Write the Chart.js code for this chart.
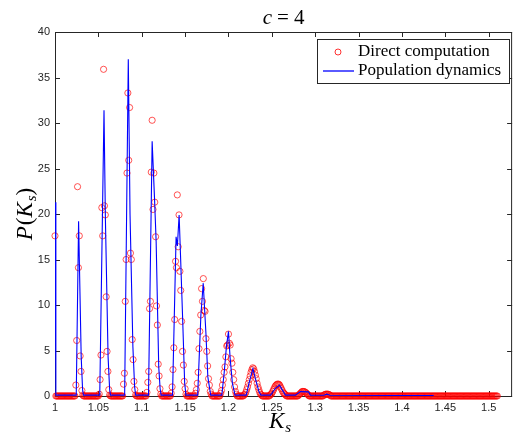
<!DOCTYPE html>
<html>
<head>
<meta charset="utf-8">
<script src="https://cdn.jsdelivr.net/npm/chart.js@4.4.1/dist/chart.umd.min.js"></script>
<style>
html, body { margin: 0; padding: 0; background: #fff; }
</style>
</head>
<body>
<canvas id="chart" width="517" height="437"></canvas>
<script>
// axis ticks
const xTicks = [1, 1.05, 1.1, 1.15, 1.2, 1.25, 1.3, 1.35, 1.4, 1.45, 1.5];
const xTickLabels = ['1', '1.05', '1.1', '1.15', '1.2', '1.25', '1.3', '1.35', '1.4', '1.45', '1.5'];
const yTicks = [0, 5, 10, 15, 20, 25, 30, 35, 40];

// Direct computation: histogram bins from Ks = 1.000, every 0.001
const redStart = 1.0;
const redStep = 0.001;
const redY = [
  17.6, 0, 0, 0, 0, 0, 0, 0, 0, 0,
  0, 0, 0, 0, 0, 0, 0, 0, 0, 0,
  0, 0, 0, 0, 1.2, 6.1, 23.0, 14.1, 17.6, 4.4,
  2.7, 0.6, 0.1, 0, 0, 0, 0, 0, 0, 0,
  0, 0, 0, 0, 0, 0, 0, 0, 0, 0,
  0, 0.2, 1.8, 4.5, 20.7, 17.6, 35.9, 20.9, 19.9, 10.9,
  4.9, 2.7, 0.7, 0.1, 0, 0, 0, 0, 0, 0,
  0, 0, 0, 0, 0, 0, 0, 0, 0, 1.3,
  2.5, 10.4, 15.0, 24.5, 33.3, 25.9, 31.7, 15.7, 15.0, 6.2,
  4.0, 1.6, 0.7, 0.1, 0, 0, 0, 0, 0, 0,
  0, 0, 0, 0, 0, 0, 0.4, 1.5, 2.7, 9.6,
  10.4, 24.6, 30.3, 20.5, 24.5, 21.3, 17.5, 9.9, 7.8, 3.5,
  2.2, 0.8, 0.2, 0, 0, 0, 0, 0, 0, 0,
  0, 0, 0, 0, 0.3, 1.0, 2.9, 5.3, 8.4, 14.8,
  14.1, 22.1, 16.4, 19.9, 13.7, 11.6, 8.2, 4.9, 3.4, 1.6,
  0.8, 0.2, 0, 0, 0, 0, 0, 0, 0, 0,
  0, 0, 0.3, 0.7, 1.4, 2.6, 5.2, 7.1, 8.9, 11.8,
  10.4, 12.9, 9.4, 9.3, 6.3, 4.9, 3.3, 1.9, 1.2, 0.5,
  0.2, 0, 0, 0, 0, 0, 0, 0, 0, 0,
  0, 0.3, 0.6, 1.2, 1.8, 2.6, 3.2, 4.3, 5.5, 5.6,
  6.8, 5.8, 5.6, 4.1, 3.6, 2.6, 1.8, 1.0, 0.5, 0.2,
  0, 0, 0, 0, 0, 0, 0, 0, 0.1, 0.2,
  0.4, 0.7, 1.0, 1.4, 1.8, 2.2, 2.6, 2.9, 3.1, 3.0,
  2.7, 2.3, 1.9, 1.4, 1.0, 0.7, 0.4, 0.2, 0.1, 0,
  0, 0, 0, 0, 0, 0, 0, 0, 0.1, 0.2,
  0.3, 0.5, 0.7, 0.9, 1.1, 1.2, 1.3, 1.3, 1.3, 1.2,
  1.0, 0.8, 0.6, 0.4, 0.3, 0.2, 0.1, 0, 0, 0,
  0, 0, 0, 0, 0, 0, 0, 0, 0, 0,
  0, 0.1, 0.2, 0.3, 0.4, 0.5, 0.5, 0.5, 0.45, 0.4,
  0.3, 0.2, 0.1, 0, 0, 0, 0, 0, 0, 0,
  0, 0, 0, 0, 0, 0, 0, 0, 0, 0,
  0.1, 0.15, 0.2, 0.2, 0.2, 0.2, 0.15, 0.1, 0, 0,
  0, 0, 0, 0, 0, 0, 0, 0, 0, 0,
  0, 0, 0, 0, 0, 0, 0, 0, 0, 0,
  0, 0, 0, 0, 0, 0, 0, 0, 0, 0,
  0, 0, 0, 0, 0, 0, 0, 0, 0, 0,
  0, 0, 0, 0, 0, 0, 0, 0, 0, 0,
  0, 0, 0, 0, 0, 0, 0, 0, 0, 0,
  0, 0, 0, 0, 0, 0, 0, 0, 0, 0,
  0, 0, 0, 0, 0, 0, 0, 0, 0, 0,
  0, 0, 0, 0, 0, 0, 0, 0, 0, 0,
  0, 0, 0, 0, 0, 0, 0, 0, 0, 0,
  0, 0, 0, 0, 0, 0, 0, 0, 0, 0,
  0, 0, 0, 0, 0, 0, 0, 0, 0, 0,
  0, 0, 0, 0, 0, 0, 0, 0, 0, 0,
  0, 0, 0, 0, 0, 0, 0, 0, 0, 0,
  0, 0, 0, 0, 0, 0, 0, 0, 0, 0,
  0, 0, 0, 0, 0, 0, 0, 0, 0, 0,
  0, 0, 0, 0, 0, 0, 0, 0, 0, 0,
  0, 0, 0, 0, 0, 0, 0, 0, 0, 0,
  0, 0, 0, 0, 0, 0, 0, 0, 0, 0,
  0
];

// Population dynamics curve
const blueX = [
  1.0, 1.001, 1.0245, 1.0272, 1.0302, 1.0318, 1.0328,
  1.0516, 1.0565, 1.0581, 1.0612, 1.063, 1.064,
  1.0803, 1.0845, 1.0865, 1.0898, 1.0918, 1.093,
  1.1078, 1.112, 1.1147, 1.1166, 1.1196, 1.1212, 1.1224,
  1.1355, 1.1396, 1.1411, 1.1431, 1.1447, 1.1472, 1.1495, 1.151,
  1.1645, 1.1682, 1.1709, 1.1725, 1.174, 1.1762, 1.1795,
  1.1923, 1.195, 1.1976, 1.2, 1.2018, 1.2045, 1.2076,
  1.2205, 1.2236, 1.2282, 1.2313, 1.2351, 1.2374,
  1.2485, 1.2542, 1.2588, 1.2618, 1.2657,
  1.2772, 1.2829, 1.2924, 1.2944,
  1.31, 1.3134, 1.317, 1.4366
];
const blueY = [
  21.3, 0.1, 0.1, 19.2, 4.3, 0.7, 0.1,
  0.1, 31.4, 19.5, 4.3, 0.7, 0.1,
  0.1, 37.0, 20.0, 5.4, 1.0, 0.1,
  0.1, 28.0, 21.8, 17.0, 3.2, 0.8, 0.1,
  0.1, 17.5, 16.5, 19.9, 15.5, 8.4, 1.4, 0.1,
  0.1, 8.9, 12.4, 9.5, 6.9, 2.1, 0.1,
  0.1, 2.5, 5.4, 7.1, 4.3, 1.4, 0.1,
  0.1, 1.4, 3.0, 1.8, 0.5, 0.1,
  0.1, 0.85, 1.2, 0.7, 0.1,
  0.1, 0.48, 0.45, 0.1,
  0.08, 0.2, 0.08, 0.05
];

const redPoints = redY.map((v, i) => ({ x: redStart + i * redStep, y: v }));
const bluePoints = blueX.map((v, i) => ({ x: v, y: blueY[i] }));

const axisColor = '#262626';
const serif = '"Liberation Serif", "DejaVu Serif", serif';

// draw a row of text pieces, each with its own font / offset
function drawPieces(ctx, pieces, x, y) {
  let cx = x;
  pieces.forEach(p => {
    ctx.font = p.font;
    ctx.fillText(p.t, cx, y + (p.dy || 0));
    cx += ctx.measureText(p.t).width + (p.gap || 0);
  });
}
function piecesWidth(ctx, pieces) {
  let w = 0;
  pieces.forEach(p => { ctx.font = p.font; w += ctx.measureText(p.t).width + (p.gap || 0); });
  return w;
}

const matlabFrame = {
  id: 'matlabFrame',
  beforeDatasetsDraw(chart) {
    const { ctx, chartArea: a, scales: { x, y } } = chart;
    ctx.save();
    ctx.strokeStyle = axisColor;
    ctx.lineWidth = 1;
    ctx.strokeRect(a.left + 0.5, a.top + 0.5, a.right - a.left - 1, a.bottom - a.top);
    ctx.beginPath();
    xTicks.forEach(v => {
      const px = Math.round(x.getPixelForValue(v)) + 0.5;
      ctx.moveTo(px, a.bottom); ctx.lineTo(px, a.bottom - 5);
      ctx.moveTo(px, a.top); ctx.lineTo(px, a.top + 5);
    });
    yTicks.forEach(v => {
      const py = Math.round(y.getPixelForValue(v)) + 0.5;
      ctx.moveTo(a.left, py); ctx.lineTo(a.left + 5, py);
      ctx.moveTo(a.right, py); ctx.lineTo(a.right - 5, py);
    });
    ctx.stroke();
    ctx.restore();
  },
  afterDatasetsDraw(chart) {
    const { ctx, chartArea: a } = chart;
    ctx.save();
    ctx.fillStyle = '#000';
    ctx.textBaseline = 'alphabetic';

    // title
    const title = [
      { t: 'c', font: 'italic 21px ' + serif, gap: 5 },
      { t: '=', font: '21px ' + serif, gap: 5 },
      { t: '4', font: '21px ' + serif }
    ];
    drawPieces(ctx, title, (a.left + a.right) / 2 - piecesWidth(ctx, title) / 2, 24);

    // x label
    const xl = [
      { t: 'K', font: 'italic 23px ' + serif, gap: 1 },
      { t: 's', font: 'italic 15px ' + serif, dy: 4 }
    ];
    drawPieces(ctx, xl, 269, 428);

    // y label
    const yl = [
      { t: 'P', font: 'italic 23px ' + serif, gap: 1 },
      { t: '(', font: '23px ' + serif },
      { t: 'K', font: 'italic 23px ' + serif, gap: 1 },
      { t: 's', font: 'italic 15px ' + serif, dy: 4 },
      { t: ')', font: '23px ' + serif }
    ];
    ctx.translate(32, 214);
    ctx.rotate(-Math.PI / 2);
    drawPieces(ctx, yl, -piecesWidth(ctx, yl) / 2, 0);
    ctx.setTransform(1, 0, 0, 1, 0, 0);

    // legend
    const L = { x: 317, y: 39, w: 192, h: 44 };
    ctx.fillStyle = '#fff';
    ctx.fillRect(L.x, L.y, L.w, L.h);
    ctx.strokeStyle = axisColor;
    ctx.lineWidth = 1;
    ctx.strokeRect(L.x + 0.5, L.y + 0.5, L.w, L.h);
    ctx.strokeStyle = 'rgba(255,0,0,0.8)';
    ctx.beginPath();
    ctx.arc(338, 52, 3, 0, Math.PI * 2);
    ctx.stroke();
    ctx.strokeStyle = '#0000ff';
    ctx.lineWidth = 1.3;
    ctx.beginPath();
    ctx.moveTo(323, 71); ctx.lineTo(354, 71);
    ctx.stroke();
    ctx.fillStyle = '#000';
    ctx.font = '17px ' + serif;
    ctx.textBaseline = 'middle';
    ctx.fillText('Direct computation', 358, 52);
    ctx.fillText('Population dynamics', 358, 71);
    ctx.restore();
  }
};

new Chart(document.getElementById('chart').getContext('2d'), {
  type: 'scatter',
  data: {
    datasets: [
      {
        label: 'Population dynamics',
        data: bluePoints,
        showLine: true,
        borderColor: '#0000ff',
        borderWidth: 1.1,
        pointRadius: 0,
        tension: 0,
        fill: false
      },
      {
        label: 'Direct computation',
        data: redPoints,
        showLine: false,
        pointStyle: 'circle',
        pointRadius: 3.1,
        borderWidth: 0.9,
        borderColor: 'rgba(255,0,0,0.75)',
        backgroundColor: 'rgba(0,0,0,0)',
        clip: false
      }
    ]
  },
  options: {
    responsive: false,
    animation: false,
    layout: { padding: { left: 0, right: 2, top: 32, bottom: 0 } },
    plugins: { legend: { display: false }, tooltip: { enabled: false }, title: { display: false } },
    scales: {
      x: {
        type: 'linear',
        min: 1,
        max: 1.527,
        afterBuildTicks: s => { s.ticks = xTicks.map(v => ({ value: v })); },
        afterFit: s => { s.height = 41; },
        grid: { display: false, drawTicks: false },
        border: { display: false },
        ticks: {
          padding: 5,
          color: axisColor,
          font: { family: '"Liberation Sans", Arial, sans-serif', size: 11 },
          maxRotation: 0,
          callback: (v, i) => xTickLabels[i]
        }
      },
      y: {
        type: 'linear',
        min: 0,
        max: 40,
        afterBuildTicks: s => { s.ticks = yTicks.map(v => ({ value: v })); },
        afterFit: s => { s.width = 55; },
        grid: { display: false, drawTicks: false },
        border: { display: false },
        ticks: {
          padding: 5,
          color: axisColor,
          font: { family: '"Liberation Sans", Arial, sans-serif', size: 11 },
          callback: v => String(v)
        }
      }
    }
  },
  plugins: [matlabFrame]
});
</script>
</body>
</html>
